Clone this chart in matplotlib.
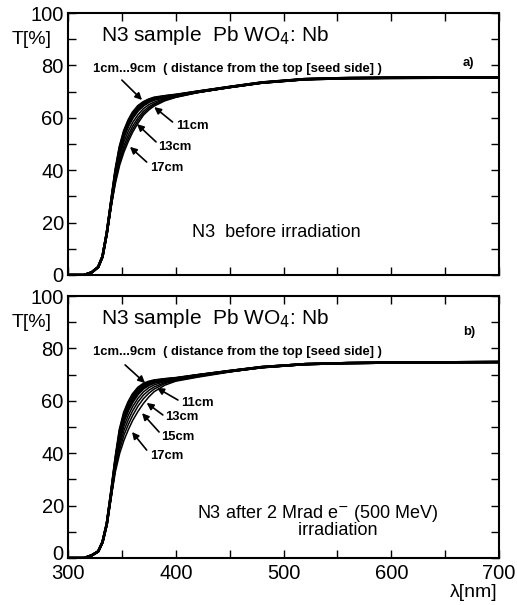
import matplotlib
matplotlib.use("Agg")
import matplotlib.pyplot as plt
from matplotlib.ticker import MultipleLocator
from matplotlib.transforms import blended_transform_factory, offset_copy

plt.rcParams['font.family'] = ['Liberation Sans', 'DejaVu Sans']

# wavelength grid [nm]
wl = [300, 315, 322, 328, 332, 336, 340, 344, 348, 352, 356, 360, 365, 370,
      375, 380, 390, 400, 420, 450, 480, 520, 560, 600, 650, 700]

# ---- panel a) before irradiation, T[%] per distance from top ----
a_1cm  = [0, 0, 1, 3, 7, 16, 28, 40, 49, 55, 59, 62, 64.5, 66, 67, 67.7, 68.3, 68.8, 70, 71.8, 73.5, 74.8, 75.2, 75.3, 75.4, 75.4]
a_3cm  = [0, 0, 1, 3, 7, 16, 28, 39.5, 48.5, 54.5, 58.5, 61.5, 64, 65.7, 66.8, 67.5, 68.2, 68.7, 70, 71.8, 73.5, 74.8, 75.2, 75.3, 75.4, 75.4]
a_5cm  = [0, 0, 1, 3, 7, 16, 27.5, 39, 48, 54, 58, 61, 63.6, 65.4, 66.6, 67.3, 68.1, 68.6, 69.9, 71.7, 73.4, 74.7, 75.1, 75.3, 75.3, 75.3]
a_7cm  = [0, 0, 1, 3, 7, 16, 27.5, 38.5, 47.5, 53.5, 57.5, 60.5, 63.2, 65, 66.3, 67.1, 68, 68.5, 69.9, 71.7, 73.4, 74.7, 75.1, 75.2, 75.3, 75.3]
a_9cm  = [0, 0, 1, 3, 7, 16, 27, 38, 47, 53, 57, 60, 62.8, 64.7, 66, 66.9, 67.9, 68.4, 69.8, 71.7, 73.4, 74.7, 75.1, 75.2, 75.3, 75.3]
a_11cm = [0, 0, 1, 3, 7, 15.5, 27, 37.5, 45.5, 51, 55, 58.2, 61.2, 63.5, 65, 66, 67.4, 68.2, 69.7, 71.7, 73.4, 74.7, 75.1, 75.2, 75.3, 75.3]
a_13cm = [0, 0, 1, 3, 7, 15.5, 26.5, 36.5, 44, 49.5, 53.5, 56.8, 60, 62.5, 64.2, 65.4, 67.1, 68, 69.7, 71.6, 73.3, 74.6, 75.1, 75.2, 75.3, 75.3]
a_15cm = [0, 0, 1, 3, 7, 15, 26, 35.8, 43, 48.2, 52.2, 55.6, 59, 61.7, 63.6, 65, 66.8, 67.9, 69.6, 71.6, 73.3, 74.6, 75.1, 75.2, 75.3, 75.3]
a_17cm = [0, 0, 1, 3, 7, 15, 26, 35, 42, 47, 51, 54.5, 58, 61, 63, 64.5, 66.5, 67.8, 69.6, 71.6, 73.3, 74.6, 75.1, 75.2, 75.3, 75.3]

# ---- panel b) after 2 Mrad e- irradiation ----
b_1cm  = [0, 0, 1, 2.5, 6, 13, 25, 38, 49, 55.5, 59.5, 62.5, 65, 66.5, 67.3, 67.8, 68.3, 68.7, 69.8, 71.4, 72.9, 74, 74.4, 74.6, 74.7, 74.8]
b_3cm  = [0, 0, 1, 2.5, 6, 13, 25, 37.5, 48.3, 54.8, 58.8, 61.8, 64.4, 66, 67, 67.6, 68.2, 68.6, 69.8, 71.4, 72.9, 74, 74.4, 74.6, 74.7, 74.8]
b_5cm  = [0, 0, 1, 2.5, 6, 13, 24.5, 37, 47.5, 54, 58, 61, 63.8, 65.6, 66.7, 67.4, 68.1, 68.5, 69.7, 71.3, 72.9, 74, 74.4, 74.6, 74.7, 74.8]
b_7cm  = [0, 0, 1, 2.5, 6, 13, 24.5, 36.5, 46.8, 53.2, 57.2, 60.3, 63.2, 65.2, 66.4, 67.2, 68, 68.4, 69.7, 71.3, 72.8, 74, 74.4, 74.6, 74.7, 74.8]
b_9cm  = [0, 0, 1, 2.5, 6, 13, 24, 36, 46, 52.5, 56.5, 59.6, 62.6, 64.7, 66, 66.9, 67.8, 68.3, 69.6, 71.3, 72.8, 74, 74.4, 74.6, 74.7, 74.8]
b_11cm = [0, 0, 1, 2.5, 6, 13, 24, 35.5, 44.5, 50.5, 54.5, 57.8, 61, 63.4, 65, 66.1, 67.4, 68.1, 69.5, 71.2, 72.8, 73.9, 74.4, 74.6, 74.7, 74.8]
b_13cm = [0, 0, 1, 2.5, 6, 13, 23.5, 34.8, 43, 48.8, 52.8, 56.2, 59.6, 62.2, 64, 65.3, 67, 67.9, 69.4, 71.2, 72.8, 73.9, 74.4, 74.6, 74.7, 74.8]
b_15cm = [0, 0, 1, 2.5, 6, 13, 23.5, 34, 41.5, 47, 51, 54.4, 58, 60.8, 62.9, 64.5, 66.6, 67.7, 69.2, 71.1, 72.7, 73.9, 74.4, 74.6, 74.7, 74.8]
b_17cm = [0, 0, 1, 2.5, 6, 13, 23, 33, 40, 45, 49, 52.5, 56, 59, 61.5, 63.5, 66, 67.5, 69, 71, 72.7, 73.9, 74.4, 74.6, 74.7, 74.8]

bundle_a = [a_1cm, a_3cm, a_5cm, a_7cm, a_9cm]
singles_a = [a_11cm, a_13cm, a_15cm, a_17cm]
bundle_b = [b_1cm, b_3cm, b_5cm, b_7cm, b_9cm]
singles_b = [b_11cm, b_13cm, b_15cm, b_17cm]

title_txt = r'N3 sample  Pb WO$_4$: Nb'
dist_txt = '1cm...9cm  ( distance from the top [seed side] )'

fig = plt.figure(figsize=(5.17, 6.05), dpi=100)
ax1 = fig.add_axes([0.1315, 0.5455, 0.834, 0.433])
ax2 = fig.add_axes([0.1315, 0.0777, 0.834, 0.433])

small = dict(fontsize=9.4, fontweight='bold')

for ax in (ax1, ax2):
    ax.set_xlim(300, 700)
    ax.set_ylim(0, 100)
    ax.xaxis.set_major_locator(MultipleLocator(100))
    ax.xaxis.set_minor_locator(MultipleLocator(50))
    ax.yaxis.set_major_locator(MultipleLocator(20))
    ax.yaxis.set_minor_locator(MultipleLocator(10))
    ax.tick_params(which='both', direction='in', top=True, right=True,
                   width=1.0, length=6, labelsize=14.5, color='black')
    ax.tick_params(axis='y', pad=3)
    ax.tick_params(axis='x', pad=4)
    for s in ax.spines.values():
        s.set_linewidth(1.5)
    tr = blended_transform_factory(ax.transAxes, ax.transData)
    ax.text(-0.037, 90, 'T[%]', transform=tr, ha='right', va='center', fontsize=14)
    ax.text(331, 91.5, title_txt, ha='left', va='center', fontsize=15)
    ax.text(323, 78.6, dist_txt, ha='left', va='center', **small)

ax1.tick_params(axis='x', labelbottom=False)

aprops = dict(arrowstyle='-|>', lw=1.2, color='black', mutation_scale=10, shrinkA=0, shrinkB=0)

# panel a
for c in bundle_a:
    ax1.plot(wl, c, color='black', lw=1.8)
for c in singles_a:
    ax1.plot(wl, c, color='black', lw=1.1)
ax1.text(671, 81, 'a)', ha='center', va='center', **small)
ax1.annotate('', xy=(368.7, 66.8), xytext=(350, 74.4), arrowprops=aprops)
ax1.annotate('', xy=(380, 64.1), xytext=(397, 58.4), arrowprops=aprops)
ax1.text(400, 56.9, '11cm', ha='left', va='center', **small)
ax1.annotate('', xy=(364, 57.6), xytext=(381.7, 50.8), arrowprops=aprops)
ax1.text(384, 48.9, '13cm', ha='left', va='center', **small)
ax1.annotate('', xy=(357.5, 48.9), xytext=(373, 43.1), arrowprops=aprops)
ax1.text(376, 40.8, '17cm', ha='left', va='center', **small)
ax1.text(415, 16.4, 'N3  before irradiation', ha='left', va='center', fontsize=13)

# panel b
for c in bundle_b:
    ax2.plot(wl, c, color='black', lw=1.8)
for c in singles_b:
    ax2.plot(wl, c, color='black', lw=1.1)
ax2.text(672, 86.3, 'b)', ha='center', va='center', **small)
ax2.annotate('', xy=(371.5, 66.8), xytext=(353, 73.7), arrowprops=aprops)
ax2.annotate('', xy=(382.6, 64.9), xytext=(402, 60.3), arrowprops=aprops)
ax2.text(405, 59.2, '11cm', ha='left', va='center', **small)
ax2.annotate('', xy=(373, 59.2), xytext=(388, 54.6), arrowprops=aprops)
ax2.text(390, 53.8, '13cm', ha='left', va='center', **small)
ax2.annotate('', xy=(368.7, 55.3), xytext=(384.5, 48.1), arrowprops=aprops)
ax2.text(386, 46.2, '15cm', ha='left', va='center', **small)
ax2.annotate('', xy=(359.4, 48.1), xytext=(373, 41.2), arrowprops=aprops)
ax2.text(376, 39, '17cm', ha='left', va='center', **small)
ax2.text(532, 14.2, 'N3 after 2 Mrad e$^{-}$ (500 MeV)\n        irradiation',
         ha='center', va='center', fontsize=13, linespacing=0.85)
ax2.text(0.995, -0.13, '\u03bb[nm]', transform=ax2.transAxes, ha='right', va='center', fontsize=14)

# nudge the bottom-panel "0" label up slightly so it clears the "300" label
fig.canvas.draw()
for t in ax2.yaxis.get_major_ticks():
    if abs(t.get_loc()) < 1e-9:
        lab = t.label1
        lab.set_transform(offset_copy(lab.get_transform(), fig=fig, x=0, y=5, units='dots'))

fig.savefig('out.png', dpi=100)
